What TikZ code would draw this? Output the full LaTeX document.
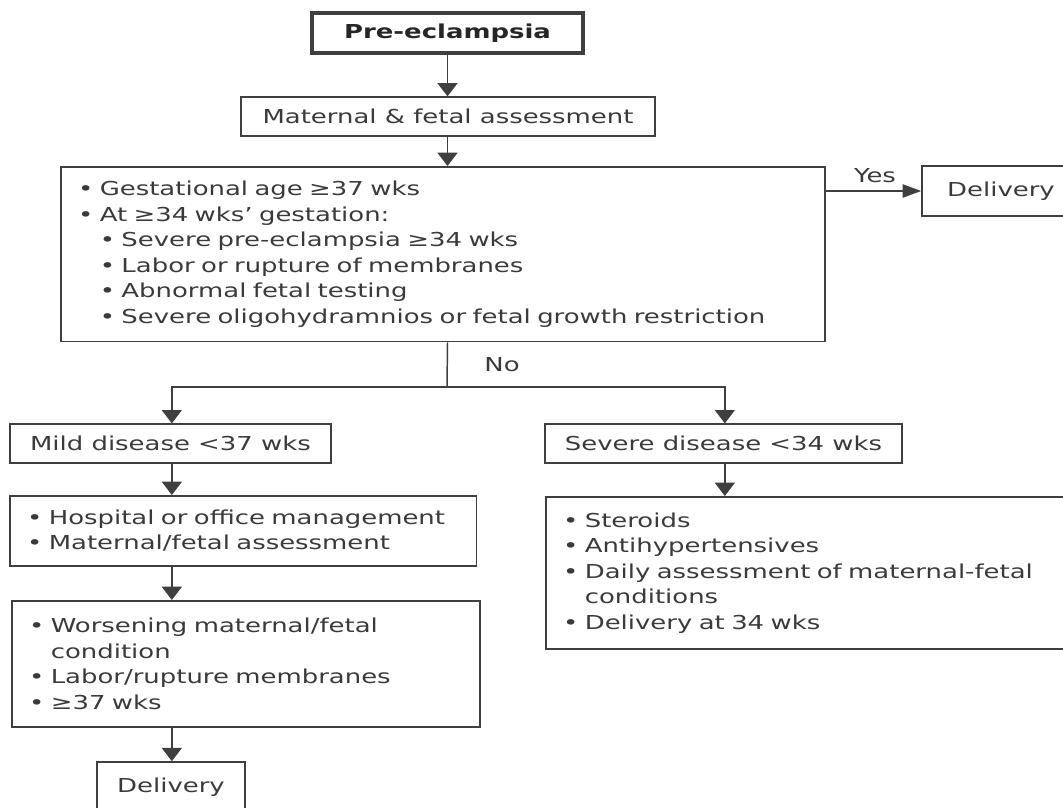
\documentclass[tikz,border=0pt]{standalone}
\usepackage{fontspec}
\usetikzlibrary{arrows.meta}
\newfontfamily\vfont[FakeStretch=1.35]{DejaVu Sans}
\definecolor{linegray}{HTML}{3F3F3F}
\definecolor{txtgray}{HTML}{3A3A3A}
\tikzset{
  box/.style={draw=linegray, line width=1.2pt, text=txtgray, inner sep=0pt,
    font=\vfont\fontsize{14.4}{19.1}\selectfont},
  listbox/.style={box, align=left, inner xsep=13pt, anchor=north west},
  arr/.style={draw=linegray, line width=1.1pt, -{Triangle[width=15pt,length=10pt]}},
  harr/.style={draw=linegray, line width=1.1pt, -{Triangle[width=10pt,length=14pt]}},
  lbl/.style={text=txtgray, font=\vfont\fontsize{14.4}{19.1}\selectfont, inner sep=0pt}
}
\begin{document}
\begin{tikzpicture}[x=0.75pt,y=-0.75pt]
% ===== page =====
\useasboundingbox (0,0) rectangle (1063,807);
\clip (0,0) rectangle (1063,807);

% ===== top =====
\node[box, line width=2.6pt, minimum width=203pt, minimum height=30pt, text=black!85,
  font=\vfont\bfseries\fontsize{14.4}{19.1}\selectfont] (pre) at (447.5,33) {Pre-eclampsia};
\node[box, minimum width=310.5pt, minimum height=29pt] (mat) at (448,116.5) {Maternal \& fetal assessment};

% ===== criteria =====
\node[listbox, text width=547pt, minimum height=131pt] (big) at (60,166)
  {•\ Gestational age ≥37 wks\\
   •\ At ≥34 wks’ gestation:\\
   \hphantom{•\ }•\ Severe pre-eclampsia ≥34 wks\\
   \hphantom{•\ }•\ Labor or rupture of membranes\\
   \hphantom{•\ }•\ Abnormal fetal testing\\
   \hphantom{•\ }•\ Severe oligohydramnios or fetal growth restriction};
\node[box, minimum width=118.5pt, minimum height=37.5pt] (del1) at (1001,191) {Delivery};

% ===== mild branch =====
\node[box, minimum width=241pt, minimum height=29pt] (mild) at (170.5,443.5) {Mild disease <37 wks};
\node[listbox, text width=324pt, minimum height=52.5pt] (hosp) at (9,495)
  {•\ Hospital or office management\\
   •\ Maternal/fetal assessment};
\node[listbox, text width=325pt, minimum height=94.5pt] (wors) at (11,600)
  {•\ Worsening maternal/fetal\\
   \hphantom{•\ }condition\\
   •\ Labor/rupture membranes\\
   •\ ≥37 wks};
\node[box, minimum width=111pt, minimum height=37.5pt] (del2) at (171,787) {Delivery};

% ===== severe branch =====
\node[listbox, text width=375pt, minimum height=114pt] (ster) at (545,496)
  {•\ Steroids\\
   •\ Antihypertensives\\
   •\ Daily assessment of maternal-fetal\\
   \hphantom{•\ }conditions\\
   •\ Delivery at 34 wks};
\node[box, minimum width=268pt, minimum height=29pt] (sev) at (723.5,443.5) {Severe disease <34 wks};

% ===== connectors =====
\draw[arr] (pre.south) -- (pre.south |- mat.north);
\draw[arr] (pre.south |- mat.south) -- (pre.south |- big.north);
\draw[harr] (big.east |- del1.west) -- (del1.west);
\node[lbl] (yes) at (875,176) {Yes};

\coordinate (split) at (447,387);
\draw[draw=linegray, line width=1.1pt] (pre.south |- big.south) -- (split);
\node[lbl] (no) at (502,365) {No};
\draw[arr] (split) -| ([xshift=1pt]mild.north);
\draw[arr] (split) -| ([xshift=1pt]sev.north);

\draw[arr] ([xshift=1pt]mild.south) -- ([xshift=1pt]mild.south |- hosp.north);
\draw[arr] ([xshift=1pt]mild.south |- hosp.south) -- ([xshift=1pt]mild.south |- wors.north);
\draw[arr] ([xshift=1pt]mild.south |- wors.south) -- ([xshift=1pt]mild.south |- del2.north);
\draw[arr] ([xshift=1pt]sev.south) -- ([xshift=1pt]sev.south |- ster.north);
\end{tikzpicture}
\end{document}
